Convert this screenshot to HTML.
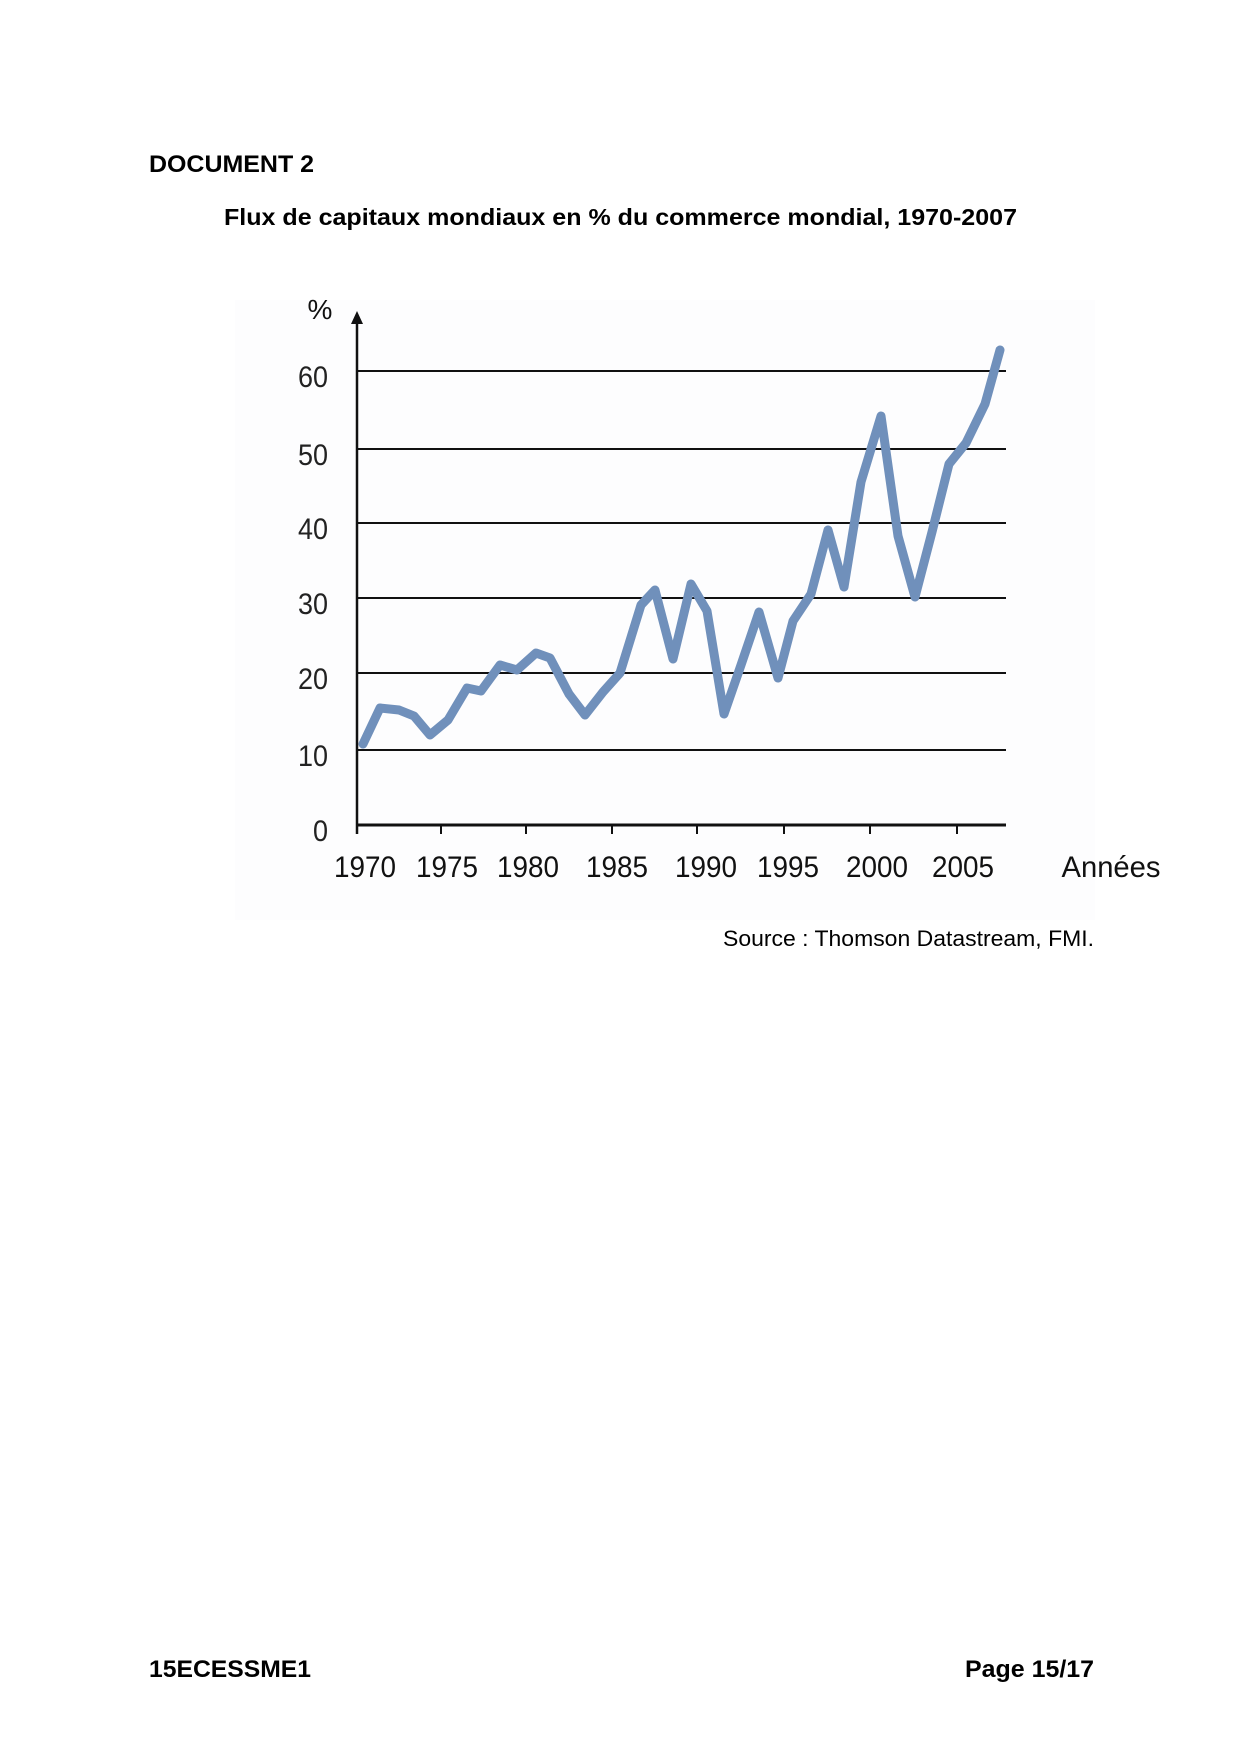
<!DOCTYPE html>
<html><head><meta charset="utf-8"><style>
html,body{margin:0;padding:0;background:#fff}
svg{display:block}
</style></head><body>
<svg width="1240" height="1754" viewBox="0 0 1240 1754" xmlns="http://www.w3.org/2000/svg">
<rect width="1240" height="1754" fill="#ffffff"/>
<rect x="235" y="300" width="860" height="620" fill="#fdfdfe"/>
<g font-family="Liberation Sans, sans-serif" fill="#000">
<text x="149" y="172" font-size="24" font-weight="bold" textLength="165" lengthAdjust="spacingAndGlyphs">DOCUMENT 2</text>
<text x="224" y="225" font-size="23" font-weight="bold" textLength="793" lengthAdjust="spacingAndGlyphs">Flux de capitaux mondiaux en % du commerce mondial, 1970-2007</text>
<text x="723" y="946" font-size="22" textLength="371" lengthAdjust="spacingAndGlyphs">Source : Thomson Datastream, FMI.</text>
<text x="149" y="1677" font-size="24" font-weight="bold" textLength="162" lengthAdjust="spacingAndGlyphs">15ECESSME1</text>
<text x="965" y="1677" font-size="24" font-weight="bold" textLength="129" lengthAdjust="spacingAndGlyphs">Page 15/17</text>
</g>
<g stroke="#111" stroke-width="2">
<line x1="357" y1="371" x2="1006" y2="371"/>
<line x1="357" y1="449" x2="1006" y2="449"/>
<line x1="357" y1="523" x2="1006" y2="523"/>
<line x1="357" y1="598" x2="1006" y2="598"/>
<line x1="357" y1="673" x2="1006" y2="673"/>
<line x1="357" y1="750" x2="1006" y2="750"/>
<line x1="357" y1="825" x2="1006" y2="825" stroke-width="3"/>
<line x1="357" y1="322" x2="357" y2="834" stroke-width="2.5"/>
<line x1="441" y1="825" x2="441" y2="834"/>
<line x1="526" y1="825" x2="526" y2="834"/>
<line x1="612" y1="825" x2="612" y2="834"/>
<line x1="697" y1="825" x2="697" y2="834"/>
<line x1="784" y1="825" x2="784" y2="834"/>
<line x1="870" y1="825" x2="870" y2="834"/>
<line x1="957" y1="825" x2="957" y2="834"/>
</g>
<polygon points="357,311 351,324 363,324" fill="#111"/>
<g font-family="Liberation Sans, sans-serif" font-size="30" fill="#222" text-anchor="end">
<text x="328" y="387" textLength="30" lengthAdjust="spacingAndGlyphs">60</text>
<text x="328" y="465" textLength="30" lengthAdjust="spacingAndGlyphs">50</text>
<text x="328" y="539" textLength="30" lengthAdjust="spacingAndGlyphs">40</text>
<text x="328" y="614" textLength="30" lengthAdjust="spacingAndGlyphs">30</text>
<text x="328" y="689" textLength="30" lengthAdjust="spacingAndGlyphs">20</text>
<text x="328" y="766" textLength="30" lengthAdjust="spacingAndGlyphs">10</text>
<text x="328" y="841" textLength="15" lengthAdjust="spacingAndGlyphs">0</text>
</g>
<g font-family="Liberation Sans, sans-serif" font-size="30" fill="#111" text-anchor="middle">
<text x="320" y="319" font-size="28">%</text>
<text x="365" y="877" textLength="62" lengthAdjust="spacingAndGlyphs">1970</text>
<text x="447" y="877" textLength="62" lengthAdjust="spacingAndGlyphs">1975</text>
<text x="528" y="877" textLength="62" lengthAdjust="spacingAndGlyphs">1980</text>
<text x="617" y="877" textLength="62" lengthAdjust="spacingAndGlyphs">1985</text>
<text x="706" y="877" textLength="62" lengthAdjust="spacingAndGlyphs">1990</text>
<text x="788" y="877" textLength="62" lengthAdjust="spacingAndGlyphs">1995</text>
<text x="877" y="877" textLength="62" lengthAdjust="spacingAndGlyphs">2000</text>
<text x="963" y="877" textLength="62" lengthAdjust="spacingAndGlyphs">2005</text>
<text x="1111" y="877" textLength="99" lengthAdjust="spacingAndGlyphs">Années</text>
</g>
<polyline fill="none" stroke="#7090bb" stroke-width="9" stroke-linejoin="round" stroke-linecap="round"
points="363,744 380,708 399,710 414,716 430,735 448,720 467,688 481,691 500,665 517,670 536,653 550,658 569,694 585,715 603,692 620,673 641,605 655,590 673,659 691,584 707,611 724,714 741,665 759,612 778,678 793,621 811,594 828,530 844,587 861,482 881,416 898,536 915,597 932,532 949,464 966,443 985,404 1000,350"/>
</svg>
</body></html>
